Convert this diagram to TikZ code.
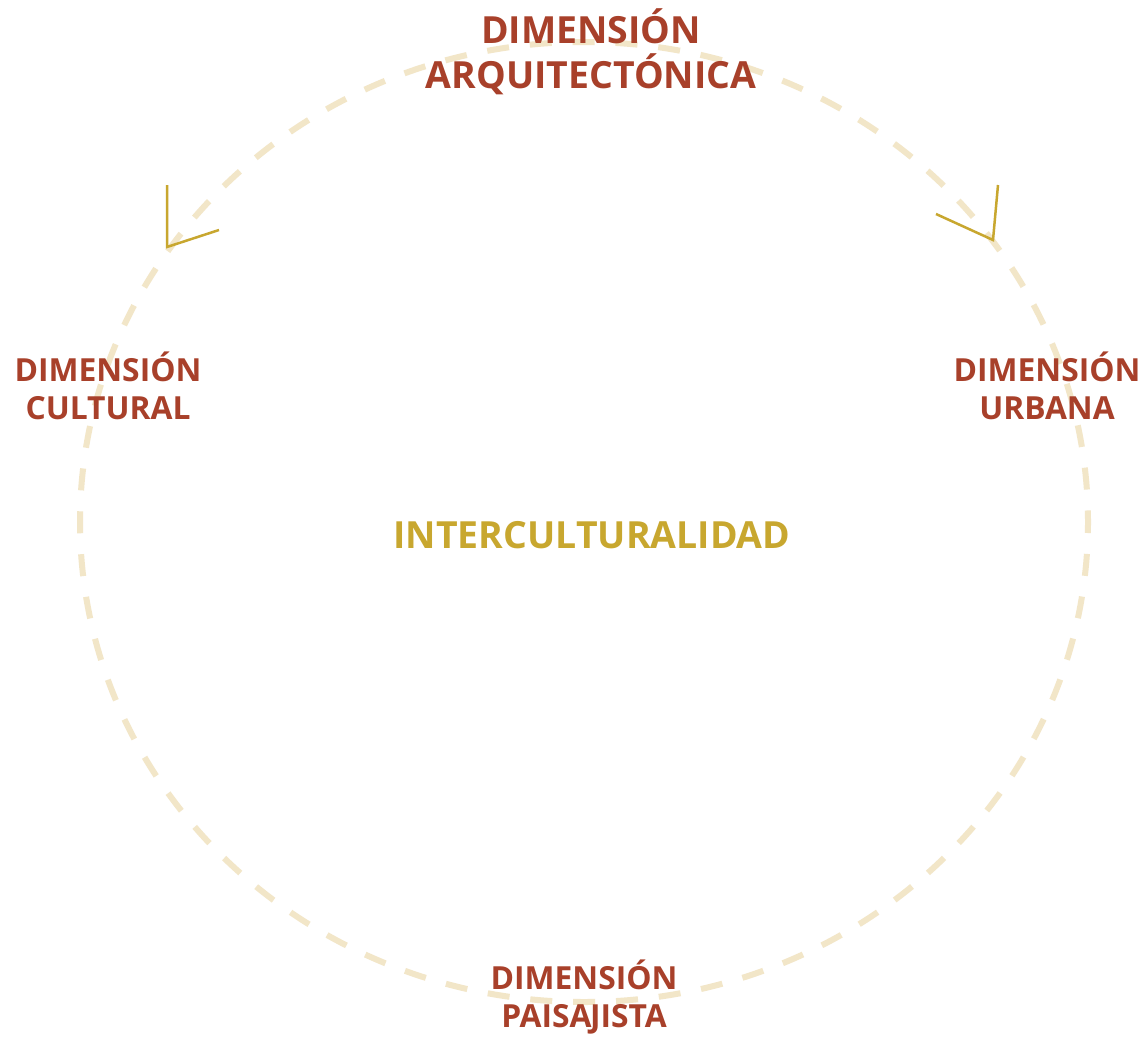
\documentclass[tikz,border=0pt]{standalone}
\usepackage{fontspec}
\setmainfont{Open Sans}
\definecolor{dimred}{HTML}{A8402A}
\definecolor{gold}{HTML}{C8A72F}
\definecolor{beige}{HTML}{F2E6C8}
\begin{document}
\begin{tikzpicture}[x=1pt,y=-1pt,
  dimlabel/.style={text=dimred, align=center, inner sep=0pt, font=\bfseries\fontsize{31.8}{38}\selectfont},
  biglabel/.style={text=dimred, align=center, inner sep=0pt, font=\bfseries\fontsize{37.4}{45}\selectfont},
  centerlabel/.style={text=gold, inner sep=0pt, font=\bfseries\fontsize{37.4}{42}\selectfont},
  ring/.style={draw=beige, line width=6pt, dash pattern=on 22pt off 20.94pt, dash phase=11pt},
  tick/.style={draw=gold, line width=2.5pt}]
\useasboundingbox (0,0) rectangle (1146,1039);
\fill[white] (0,0) rectangle (1146,1039);
\coordinate (c) at (584,522);
\draw[ring] (c) ellipse [x radius=504, y radius=480];
% arrow marks
\coordinate (la) at (167,185);
\coordinate (lb) at (167,247);
\coordinate (lc) at (219,230);
\draw[tick, line join=miter] (la) -- (lb) -- (lc);
\coordinate (ra) at (998,185);
\coordinate (rb) at (993,240);
\coordinate (rc) at (936,214);
\draw[tick, line join=miter] (ra) -- (rb) -- (rc);
% labels
\node[biglabel] (arq) at (591,52) {DIMENSIÓN\\ARQUITECTÓNICA};
\node[dimlabel] (cul) at (108,386) {DIMENSIÓN\\CULTURAL};
\node[dimlabel] (urb) at (1047,386) {DIMENSIÓN\\URBANA};
\node[dimlabel] (pai) at (584,997) {DIMENSIÓN\\PAISA\kern-1.5pt JISTA};
\node[centerlabel, anchor=base] (inter) at (592,548) {INTERCULTURALIDAD};
\end{tikzpicture}
\end{document}
